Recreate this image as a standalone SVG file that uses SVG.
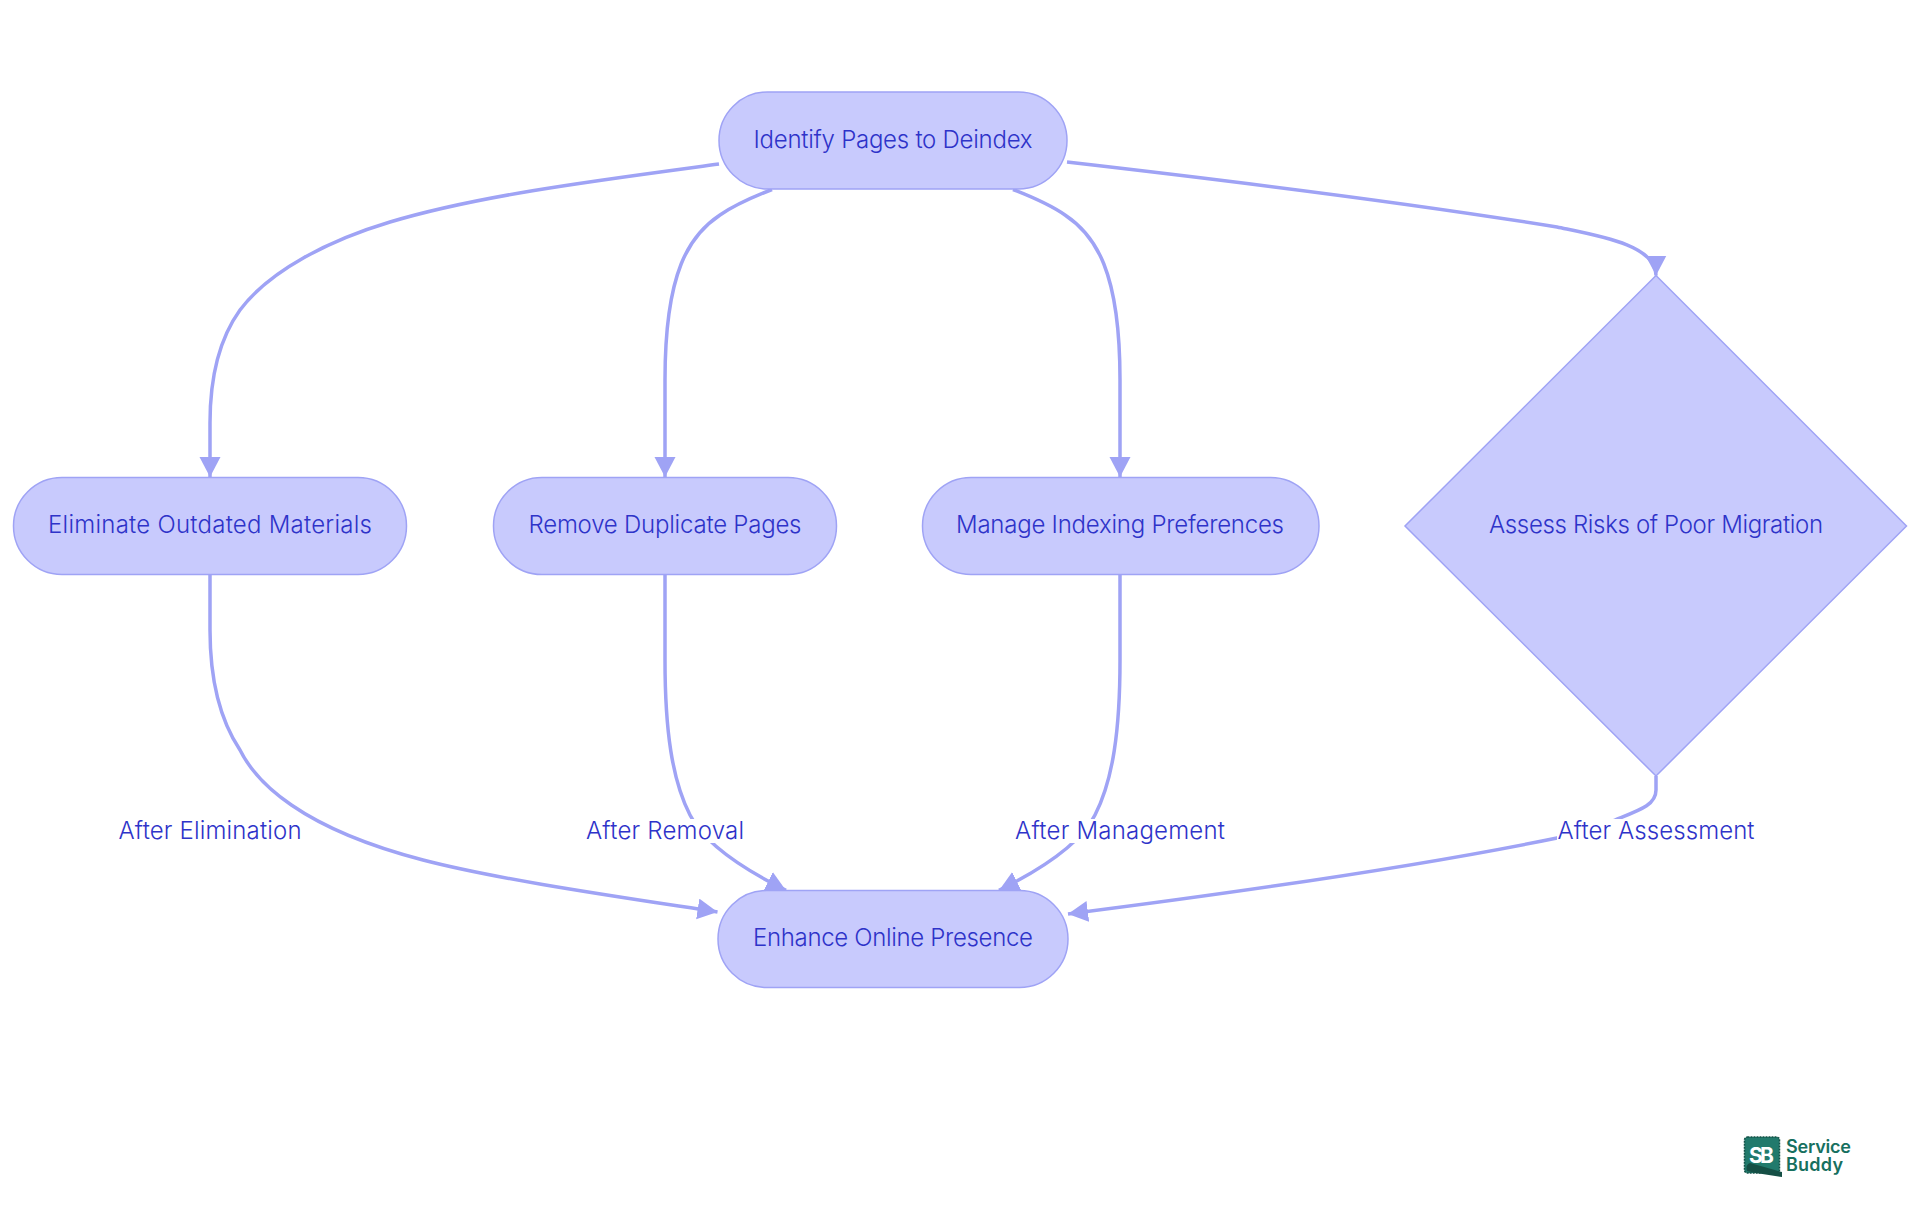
<svg xmlns="http://www.w3.org/2000/svg" width="1920" height="1215" viewBox="0 0 1920 1215">
<style>
.n{fill:#c8cafd;stroke:#9fa3f5;stroke-width:1.5}
.e{fill:none;stroke:#9fa3f5;stroke-width:3.5}
.t{font-family:"Inter","Noto Sans","Liberation Sans",sans-serif;font-size:24px;font-weight:300;fill:#2e33c9;text-anchor:middle;dominant-baseline:central}
.b{fill:#fff}
.l{font-family:"Inter","Liberation Sans",sans-serif;font-weight:600;fill:#17705f;font-size:18px}
</style>
<defs>
<marker id="a" markerUnits="userSpaceOnUse" markerWidth="24" markerHeight="24" refX="20" refY="10.5" orient="auto"><path d="M0,0L20,10.5L0,21Z" fill="#9fa3f5"/></marker>
</defs>
<rect width="1920" height="1215" fill="#fff"/>
<g id="connectors">
<path class="e" marker-end="url(#a)" d="M719,164C600,180 480,195 390,222C330,240 270,270 240,310C222,335 210,370 210,423L210,477"/>
<path class="e" marker-end="url(#a)" d="M772,189.500C745,200 733,206 720,215C690,235 665,270 665,380L665,477"/>
<path class="e" marker-end="url(#a)" d="M1013,189.500C1040,200 1052,206 1065,215C1095,235 1120,270 1120,380L1120,477"/>
<path class="e" marker-end="url(#a)" d="M1067,162C1250,183 1440,208 1557,227C1600,236 1656,245 1656,275.500"/>
<path class="e" marker-end="url(#a)" d="M210,575L210,630C210,680 220,720 240,750C256,782 300,828 423,860C500,880 620,897 717.500,912"/>
<path class="e" marker-end="url(#a)" d="M665,575L665,660C665,730 672,780 690,815C700,835 725,860 786,890.400"/>
<path class="e" marker-end="url(#a)" d="M1120,575L1120,660C1120,730 1113,780 1095,815C1085,835 1060,860 999,890.400"/>
<path class="e" marker-end="url(#a)" d="M1656,776L1656,790C1656,805 1640,810 1615,820C1595,828 1575,834 1557,838C1450,860 1280,887 1068,914"/>
</g>
<g id="edge-labels">
<g id="label-elimination"><rect class="b" x="118" y="819" width="184" height="24"/><text class="t" x="210" y="830" textLength="183">After Elimination</text></g>
<g id="label-removal"><rect class="b" x="585" y="819" width="160" height="24"/><text class="t" x="665" y="830" textLength="158">After Removal</text></g>
<g id="label-management"><rect class="b" x="1014" y="819" width="212" height="24"/><text class="t" x="1120" y="830" textLength="210">After Management</text></g>
<g id="label-assessment"><rect class="b" x="1557" y="819" width="198" height="24"/><text class="t" x="1656" y="830" textLength="197">After Assessment</text></g>
</g>
<g id="identify"><rect class="n" x="719" y="92" width="348" height="97" rx="48.500"/><text class="t" x="893" y="139" textLength="279">Identify Pages to Deindex</text></g>
<g id="eliminate"><rect class="n" x="13.500" y="477.500" width="393" height="97" rx="48.500"/><text class="t" x="210" y="524" textLength="324">Eliminate Outdated Materials</text></g>
<g id="remove"><rect class="n" x="493.500" y="477.500" width="343" height="97" rx="48.500"/><text class="t" x="665" y="524" textLength="273">Remove Duplicate Pages</text></g>
<g id="manage"><rect class="n" x="922.500" y="477.500" width="396.500" height="97" rx="48.500"/><text class="t" x="1120" y="524" textLength="328">Manage Indexing Preferences</text></g>
<g id="assess"><path class="n" d="M1656,275.500L1906.500,526L1656,776L1405,526Z"/><text class="t" x="1656" y="524" textLength="334">Assess Risks of Poor Migration</text></g>
<g id="enhance"><rect class="n" x="718" y="890.500" width="350" height="97" rx="48.500"/><text class="t" x="893" y="937" textLength="280">Enhance Online Presence</text></g>
<g id="logo">
<rect x="1744.500" y="1137" width="35" height="36" rx="3" fill="#217a6c" stroke="#135247" stroke-width="1.500" stroke-dasharray="2 1"/>
<path d="M1750,1163L1782,1172L1782,1177L1756,1173L1747,1171Q1745,1165 1750,1163Z" fill="#154f45"/>
<text x="1761.500" y="1163" text-anchor="middle" textLength="25" style="font-family:'Inter','Liberation Sans',sans-serif;font-weight:700;font-size:21px;fill:#fff">SB</text>
<text class="l" x="1786" y="1153" textLength="65">Service</text>
<text class="l" x="1786" y="1171" textLength="57">Buddy</text>
</g>
</svg>
